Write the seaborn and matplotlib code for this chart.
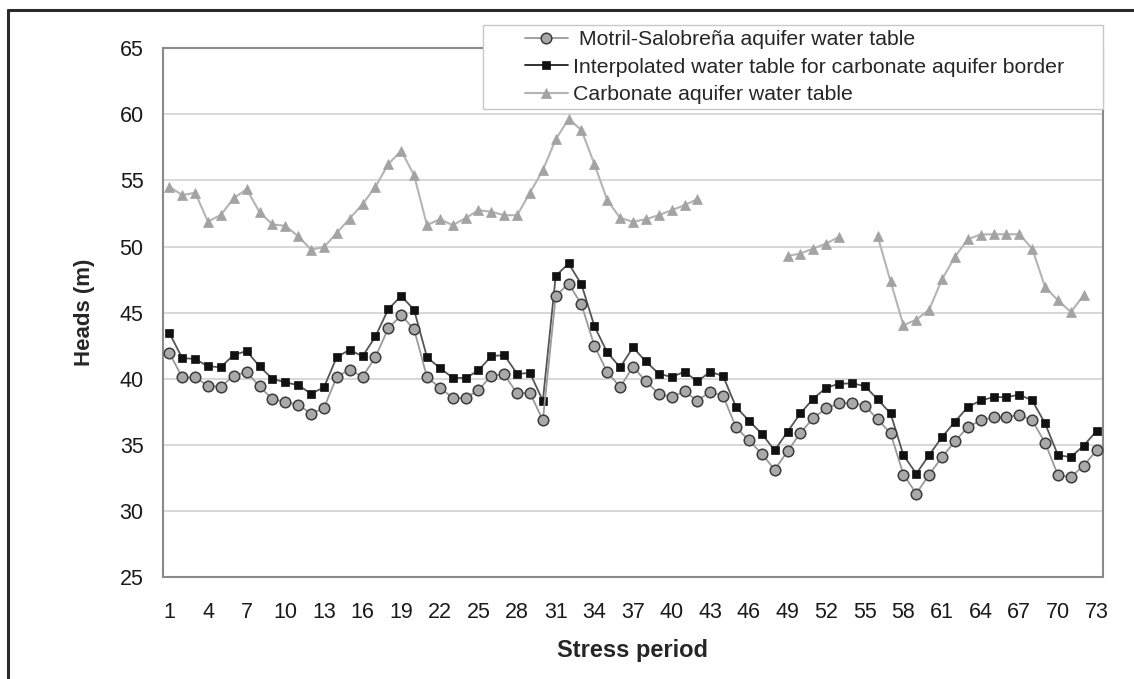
import matplotlib
matplotlib.use("Agg")
import matplotlib.pyplot as plt
from matplotlib.lines import Line2D
from matplotlib.patches import Rectangle
import numpy as np
import pandas as pd
import seaborn as sns

nan = np.nan

periods = list(range(1, 74))

motril = [41.94, 40.10, 40.10, 39.47, 39.40, 40.23, 40.50, 39.42, 38.46, 38.24,
          38.04, 37.35, 37.78, 40.15, 40.68, 40.15, 41.64, 43.83, 44.79, 43.75,
          40.13, 39.32, 38.56, 38.54, 39.14, 40.23, 40.33, 38.89, 38.94, 36.85,
          46.27, 47.20, 45.62, 42.49, 40.50, 39.37, 40.91, 39.80, 38.87, 38.61,
          39.04, 38.34, 39.02, 38.69, 36.32, 35.34, 34.33, 33.12, 34.51, 35.90,
          37.03, 37.76, 38.14, 38.16, 37.96, 36.93, 35.87, 32.75, 31.31, 32.75,
          34.08, 35.26, 36.35, 36.85, 37.08, 37.08, 37.28, 36.85, 35.16, 32.70,
          32.57, 33.43, 34.58]

interp = [43.45, 41.56, 41.50, 40.93, 40.88, 41.81, 42.09, 40.93, 40.00, 39.72,
          39.52, 38.87, 39.35, 41.64, 42.19, 41.69, 43.20, 45.26, 46.27, 45.21,
          41.64, 40.81, 40.08, 40.05, 40.63, 41.71, 41.79, 40.38, 40.43, 38.34,
          47.78, 48.72, 47.13, 43.98, 41.99, 40.86, 42.37, 41.31, 40.38, 40.13,
          40.53, 39.80, 40.53, 40.20, 37.86, 36.83, 35.84, 34.58, 35.99, 37.38,
          38.49, 39.32, 39.62, 39.65, 39.45, 38.44, 37.38, 34.21, 32.82, 34.23,
          35.59, 36.75, 37.86, 38.36, 38.61, 38.61, 38.79, 38.36, 36.62, 34.21,
          34.08, 34.94, 36.05]

carbonate = [54.52, 53.89, 54.07, 51.89, 52.40, 53.66, 54.34, 52.60, 51.67, 51.57,
             50.78, 49.77, 49.95, 51.04, 52.12, 53.21, 54.52, 56.24, 57.25, 55.40,
             51.62, 52.07, 51.62, 52.15, 52.75, 52.63, 52.37, 52.37, 54.07, 55.78,
             58.11, 59.65, 58.81, 56.24, 53.51, 52.17, 51.87, 52.07, 52.37, 52.75,
             53.13, 53.59, nan, nan, nan, nan, nan, nan, 49.29, 49.47,
             49.85, 50.23, 50.73, nan, nan, 50.78, 47.37, 44.04, 44.47, 45.23,
             47.53, 49.22, 50.56, 50.91, 50.93, 50.93, 50.93, 49.85, 46.94, 45.93,
             45.05, 46.31, nan]

series_labels = [" Motril-Salobreña aquifer water table",
                 "Interpolated water table for carbonate aquifer border",
                 "Carbonate aquifer water table"]
x_tick_labels = list(range(1, 74, 3))
y_ticks = list(range(25, 66, 5))

sns.set_style("white")
plt.rcParams["font.family"] = ["Liberation Sans", "DejaVu Sans"]

df = pd.DataFrame({"period": periods, "motril": motril, "interp": interp, "carbonate": carbonate})
# break the carbonate line where data is missing
df["seg"] = df["carbonate"].isna().cumsum()
carb = df.dropna(subset=["carbonate"])

fig = plt.figure(figsize=(11.34, 6.79), dpi=100)
ax = fig.add_axes([0.1437, 0.1502, 0.829, 0.7787])

carb_style = dict(color="#b4b4b4", linewidth=1.5, marker="^", markersize=7.3,
                  markerfacecolor="#a3a3a3", markeredgecolor="#a3a3a3", markeredgewidth=0.5)
interp_style = dict(color="#555555", linewidth=1.3, marker="s", markersize=6.4,
                    markerfacecolor="#111111", markeredgecolor="#111111", markeredgewidth=0.5)
motril_style = dict(color="#9a9a9a", linewidth=1.3, marker="o", markersize=7.6,
                    markerfacecolor="#a9a9a9", markeredgecolor="#3c3c3c", markeredgewidth=1.1)

sns.lineplot(data=carb, x="period", y="carbonate", units="seg", estimator=None,
             ax=ax, zorder=3, **carb_style)
sns.lineplot(data=df, x="period", y="interp", estimator=None, ax=ax, zorder=4, **interp_style)
sns.lineplot(data=df, x="period", y="motril", estimator=None, ax=ax, zorder=5, **motril_style)

ax.set_xlim(0.5, 73.5)
ax.set_ylim(25, 65)
ax.set_yticks(y_ticks)
ax.set_xticks(x_tick_labels)
ax.set_xticks(np.arange(0.5, 74, 1), minor=True)
ax.tick_params(axis="x", which="major", length=0, pad=18, labelsize=15.5, labelcolor="#1a1a1a")
ax.tick_params(axis="x", which="minor", length=6, width=1, color="#8c8c8c", direction="out")
ax.tick_params(axis="y", length=0, pad=14, labelsize=15.5, labelcolor="#1a1a1a")
ax.grid(axis="y", color="#d4d4d4", linewidth=1.3)
for s in ax.spines.values():
    s.set_color("#8a8a8a")
    s.set_linewidth(1.5)

ax.set_xlabel("Stress period", fontsize=17, fontweight="bold")
ax.set_ylabel("Heads (m)", fontsize=16, fontweight="bold")
ax.xaxis.set_label_coords(0.5, -0.117)
ax.yaxis.set_label_coords(-0.072, 0.5)

# legend box drawn separately so the padding can differ left/right vs top/bottom
fig.add_artist(Rectangle((0.4259, 0.8395), 0.5467, 0.1237, transform=fig.transFigure,
                         facecolor="white", edgecolor="#c8c8c8", linewidth=1, zorder=2))
handles = [Line2D([], [], **motril_style), Line2D([], [], **interp_style), Line2D([], [], **carb_style)]
handles[1].set_color("#222222")
fig.legend(handles, series_labels, loc="center left", bbox_to_anchor=(0.463, 0.9013),
           frameon=False, fontsize=15.3, handlelength=2.0, handletextpad=0.24,
           labelspacing=0.4, borderpad=0, borderaxespad=0)

# outer frame (only top and left edges show)
fig.add_artist(Line2D([0.00705, 1.0], [0.986, 0.986], transform=fig.transFigure,
                      color="#2b2b2b", linewidth=2.2))
fig.add_artist(Line2D([0.00705, 0.00705], [0.0, 0.986], transform=fig.transFigure,
                      color="#2b2b2b", linewidth=2.2))

fig.savefig("out.png", dpi=100)
